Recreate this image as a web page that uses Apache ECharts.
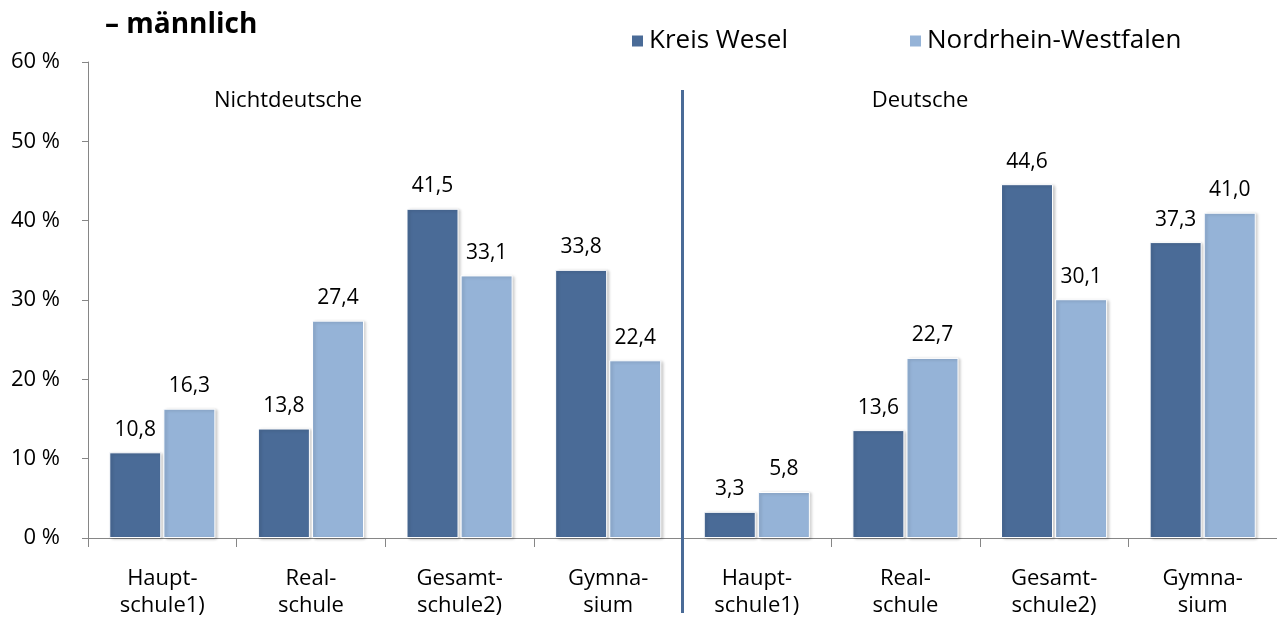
<!DOCTYPE html>
<html>
<head>
<meta charset="utf-8">
<script src="https://cdn.jsdelivr.net/npm/echarts@6/dist/echarts.min.js"></script>
<style>
  html, body { margin: 0; padding: 0; background: #fff; }
  #chart { width: 1277px; height: 619px; }
</style>
</head>
<body>
<div id="chart"></div>
<script>
var categories = ['Haupt-\nschule1)', 'Real-\nschule', 'Gesamt-\nschule2)', 'Gymna-\nsium',
                  'Haupt-\nschule1)', 'Real-\nschule', 'Gesamt-\nschule2)', 'Gymna-\nsium'];
var kreisWesel = [10.8, 13.8, 41.5, 33.8, 3.3, 13.6, 44.6, 37.3];
var nrw = [16.3, 27.4, 33.1, 22.4, 5.8, 22.7, 30.1, 41.0];
var seriesNames = ['Kreis Wesel', 'Nordrhein-Westfalen'];
var groupNames = ['Nichtdeutsche', 'Deutsche'];

var FONT = '"Open Sans", Lato, sans-serif';
var DARK = '#4a6b97';
var LIGHT = '#95b3d7';

function fmt(v) {
    return v.toFixed(1).replace('.', ',');
}

var chart = echarts.init(document.getElementById('chart'));

function barSeries(name, data, color) {
    return {
        name: name,
        type: 'bar',
        data: data,
        barWidth: '35%',
        barGap: '4%',
        itemStyle: {
            color: color,
            borderColor: '#fff',
            borderWidth: 1,
            shadowColor: 'rgba(0,0,0,0.22)',
            shadowBlur: 3,
            shadowOffsetX: 2,
            shadowOffsetY: 1
        },
        label: {
            show: true,
            position: 'top',
            distance: 12,
            color: '#000',
            fontFamily: FONT,
            fontSize: 21,
            formatter: function (p) { return fmt(p.value); }
        }
    };
}

var option = {
    animation: false,
    textStyle: { fontFamily: FONT },
    grid: { left: 88, right: -9, top: 62, bottom: 78 },
    legend: {
        data: seriesNames,
        left: 630,
        top: 28,
        padding: 0,
        itemWidth: 13,
        itemHeight: 13,
        itemGap: 120,
        icon: 'rect',
        textStyle: { fontFamily: FONT, fontSize: 26, color: '#000' }
    },
    xAxis: {
        type: 'category',
        data: categories,
        axisLine: { lineStyle: { color: '#868686', width: 1 } },
        axisTick: { show: true, length: 9, lineStyle: { color: '#868686' } },
        axisLabel: {
            color: '#000',
            fontSize: 22,
            lineHeight: 27,
            margin: 27,
            fontFamily: FONT,
            interval: 0
        }
    },
    yAxis: {
        type: 'value',
        min: 0,
        max: 60,
        interval: 10,
        axisLine: { show: true, lineStyle: { color: '#868686', width: 1 } },
        axisTick: { show: true, length: 6, lineStyle: { color: '#868686' } },
        splitLine: { show: false },
        axisLabel: {
            color: '#000',
            fontSize: 22,
            margin: 28,
            fontFamily: FONT,
            formatter: function (v) { return v + ' %'; }
        }
    },
    series: [
        barSeries(seriesNames[0], kreisWesel, DARK),
        barSeries(seriesNames[1], nrw, LIGHT)
    ]
};

chart.setOption(option);

// separator line between the two groups, group titles and heading
var sepX = (chart.convertToPixel({ xAxisIndex: 0 }, 3) + chart.convertToPixel({ xAxisIndex: 0 }, 4)) / 2;

chart.setOption({
    graphic: [
        {
            type: 'text',
            left: 105,
            top: 11,
            style: { text: '– männlich', font: 'bold 28px ' + FONT, fill: '#000' }
        },
        {
            type: 'line',
            shape: { x1: sepX, y1: 90, x2: sepX, y2: 613 },
            style: { stroke: DARK, lineWidth: 3 },
            z: 10
        },
        {
            type: 'text',
            x: 288, y: 101,
            style: { text: groupNames[0], font: '22px ' + FONT, fill: '#000', align: 'center', verticalAlign: 'middle' }
        },
        {
            type: 'text',
            x: 920, y: 101,
            style: { text: groupNames[1], font: '22px ' + FONT, fill: '#000', align: 'center', verticalAlign: 'middle' }
        }
    ]
});
</script>
</body>
</html>
